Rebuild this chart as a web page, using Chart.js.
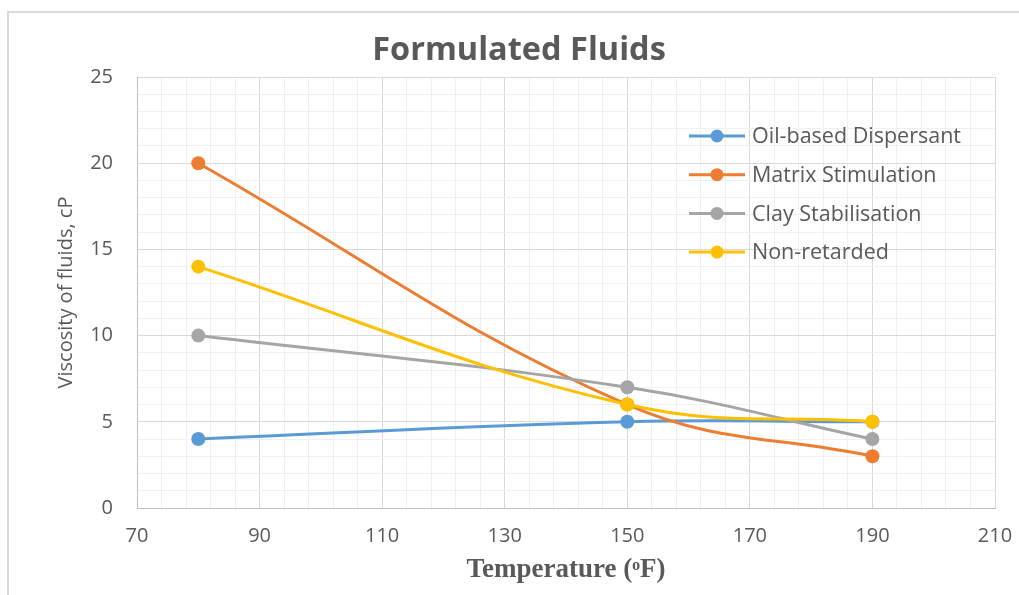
<!DOCTYPE html>
<html><head><meta charset="utf-8">
<script src="https://cdn.jsdelivr.net/npm/chart.js@4.4.1/dist/chart.umd.min.js"></script>
<style>
html,body{margin:0;padding:0;background:#fff;overflow:hidden;width:1019px;height:595px;}
#frame{position:absolute;left:7px;top:11px;width:1100px;height:700px;border-left:2px solid #D9D9D9;border-top:2px solid #D9D9D9;}
#c{position:absolute;left:0;top:0;}
</style></head><body>
<div id="frame"></div>
<canvas id="c" width="1019" height="595"></canvas>
<script>
// ---- data ----
const chartTitle = 'Formulated Fluids';
const xAxisTitle = 'Temperature (ᵒF)';
const yAxisTitle = 'Viscosity of fluids, cP';
const temperatures = [80, 150, 190];
const seriesNames = ['Oil-based Dispersant', 'Matrix Stimulation', 'Clay Stabilisation', 'Non-retarded'];
const oilBased = [4, 5, 5];
const matrixStimulation = [20, 6, 3];
const clayStabilisation = [10, 7, 4];
const nonRetarded = [14, 6, 5];
const xMajorTicks = [70, 90, 110, 130, 150, 170, 190, 210];
const yMajorTicks = [0, 5, 10, 15, 20, 25];
const xMinorStep = 4;
const yMinorStep = 1;

const colors = ['#5B9BD5', '#ED7D31', '#A5A5A5', '#FFC000'];
const seriesValues = [oilBased, matrixStimulation, clayStabilisation, nonRetarded];

const textColor = '#595959';
const sansFont = '"Open Sans", "Liberation Sans", sans-serif';

const datasets = seriesValues.map((vals, i) => ({
  label: seriesNames[i],
  data: temperatures.map((t, k) => ({ x: t, y: vals[k] })),
  borderColor: colors[i],
  backgroundColor: colors[i],
  pointBackgroundColor: colors[i],
  pointBorderColor: colors[i],
  pointRadius: 7,
  pointBorderWidth: 0,
  borderWidth: 3,
  tension: 0.4,
  order: seriesValues.length - i
}));

function buildTicks(min, max, step) {
  const out = [];
  for (let v = min; v <= max + 1e-9; v += step) out.push({ value: v });
  return out;
}

const overlay = {
  id: 'overlay',
  afterDraw(chart) {
    const ctx = chart.ctx;
    ctx.save();
    ctx.font = 'bold 32.5px ' + sansFont;
    ctx.fillStyle = textColor;
    ctx.textAlign = 'center';
    ctx.textBaseline = 'middle';
    ctx.fillText(chartTitle, 519, 51);
    chart.data.datasets.forEach((ds, i) => {
      const y = 136 + i * 38.7;
      ctx.strokeStyle = ds.borderColor;
      ctx.lineWidth = 3;
      ctx.beginPath(); ctx.moveTo(689, y); ctx.lineTo(745, y); ctx.stroke();
      ctx.fillStyle = ds.backgroundColor;
      ctx.beginPath(); ctx.arc(717, y, 6.5, 0, Math.PI * 2); ctx.fill();
      ctx.fillStyle = textColor;
      ctx.textAlign = 'left';
      ctx.font = '21.5px ' + sansFont;
      ctx.fillText(ds.label, 752, y + 1);
    });
    ctx.restore();
  }
};

new Chart(document.getElementById('c'), {
  type: 'line',
  data: { datasets },
  plugins: [overlay],
  options: {
    responsive: false,
    animation: false,
    layout: { padding: { top: 77, right: 24, left: 0, bottom: 0 } },
    plugins: { legend: { display: false }, title: { display: false }, tooltip: { enabled: false } },
    scales: {
      x: {
        type: 'linear',
        min: 70, max: 210,
        afterBuildTicks: s => { s.ticks = buildTicks(70, 210, xMinorStep); },
        afterFit: s => { s.height = 87; s.paddingLeft = 0; s.paddingRight = 0; },
        ticks: {
          autoSkip: false, maxRotation: 0, padding: 16,
          color: textColor, font: { family: sansFont, size: 20 },
          callback: v => xMajorTicks.includes(v) ? String(v) : ''
        },
        grid: {
          drawTicks: false,
          color: c => (c.tick && xMajorTicks.includes(c.tick.value)) ? '#D9D9D9' : '#F0F0F0'
        },
        border: { color: '#BFBFBF', width: 1 },
        title: {
          display: true, text: xAxisTitle, color: textColor,
          font: { family: '"Liberation Serif", "Times New Roman", serif', size: 27, weight: 'bold' },
          padding: { top: 0, bottom: 9 }
        }
      },
      y: {
        type: 'linear',
        min: 0, max: 25,
        afterBuildTicks: s => { s.ticks = buildTicks(0, 25, yMinorStep); },
        afterFit: s => { s.width = 137; s.paddingTop = 0; s.paddingBottom = 0; },
        ticks: {
          autoSkip: false, padding: 24,
          color: textColor, font: { family: sansFont, size: 20 },
          callback: v => yMajorTicks.includes(v) ? String(v) : ''
        },
        grid: {
          drawTicks: false,
          color: c => (c.tick && yMajorTicks.includes(c.tick.value)) ? '#D9D9D9' : '#F0F0F0'
        },
        border: { color: '#BFBFBF', width: 1 },
        title: {
          display: true, text: yAxisTitle, color: textColor,
          font: { family: sansFont, size: 20 },
          padding: { top: 54, bottom: 0 }
        }
      }
    }
  }
});
</script>
</body></html>
